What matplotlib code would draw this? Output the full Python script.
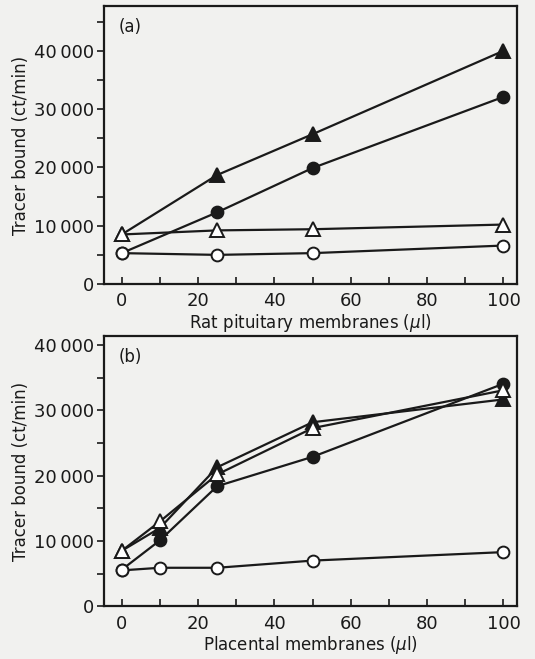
import numpy as np
import matplotlib.pyplot as plt

# --- data ---
# panel (a): rat pituitary membranes
xa = [0, 25, 50, 100]
a_filled_tri = [8500, 18700, 25700, 40000]
a_filled_circ = [5300, 12300, 19900, 32100]
a_open_tri = [8500, 9200, 9400, 10200]
a_open_circ = [5300, 5000, 5300, 6600]

# panel (b): placental membranes
xb = [0, 10, 25, 50, 100]
b_filled_tri = [8500, 12000, 21300, 28200, 31700]
b_filled_circ = [5600, 10100, 18400, 22900, 34100]
b_open_tri = [8500, 13000, 20200, 27300, 33100]
b_open_circ = [5500, 5900, 5900, 7000, 8300]

ytick_vals = [0, 10000, 20000, 30000, 40000]
ytick_labels = ['0', '10\u2009000', '20\u2009000', '30\u2009000', '40\u2009000']
xtick_vals = [0, 20, 40, 60, 80, 100]

bg = '#f1f1ef'
ink = '#1a1a1a'
plt.rcParams['font.family'] = 'DejaVu Sans'

fig = plt.figure(figsize=(5.35, 6.59), dpi=100, facecolor=bg)
ax_a = fig.add_axes([0.194, 0.569, 0.772, 0.422])
ax_b = fig.add_axes([0.194, 0.080, 0.772, 0.410])


def draw_series(ax, x, y, marker, filled):
    face = ink if filled else 'white'
    ms = 9.5 if marker == '^' else 8.5
    ax.plot(x, y, color=ink, lw=1.6, marker=marker, ms=ms,
            markerfacecolor=face, markeredgecolor=ink, markeredgewidth=1.4,
            clip_on=False, zorder=3)


def style_axes(ax, ytop, label, xlabel):
    ax.set_facecolor(bg)
    ax.set_xlim(-4.7, 103.5)
    ax.set_ylim(0, ytop)
    ax.set_yticks(ytick_vals)
    ax.set_yticklabels(ytick_labels)
    ax.set_yticks(np.arange(5000, ytop, 10000), minor=True)
    ax.set_xticks(xtick_vals)
    ax.set_xticks(np.arange(10, 101, 20), minor=True)
    ax.tick_params(axis='y', which='both', direction='out', length=5, width=1.2,
                   colors=ink, labelsize=13, pad=2)
    ax.tick_params(axis='x', which='both', direction='in', length=5, width=1.2,
                   colors=ink, labelsize=13, pad=6)
    for s in ax.spines.values():
        s.set_linewidth(1.6)
        s.set_color(ink)
    ax.set_ylabel('Tracer bound (ct/min)', fontsize=12, color=ink, labelpad=3)
    ax.set_xlabel(xlabel, fontsize=12, color=ink, labelpad=1)
    ax.text(0.035, 0.955, label, transform=ax.transAxes, fontsize=12,
            color=ink, va='top', ha='left')


draw_series(ax_a, xa, a_filled_tri, '^', True)
draw_series(ax_a, xa, a_filled_circ, 'o', True)
draw_series(ax_a, xa, a_open_tri, '^', False)
draw_series(ax_a, xa, a_open_circ, 'o', False)
style_axes(ax_a, 47700, '(a)', 'Rat pituitary membranes ($\\mu$l)')

draw_series(ax_b, xb, b_filled_tri, '^', True)
draw_series(ax_b, xb, b_filled_circ, 'o', True)
draw_series(ax_b, xb, b_open_tri, '^', False)
draw_series(ax_b, xb, b_open_circ, 'o', False)
style_axes(ax_b, 41400, '(b)', 'Placental membranes ($\\mu$l)')

fig.savefig('out.png', dpi=100, facecolor=bg)
